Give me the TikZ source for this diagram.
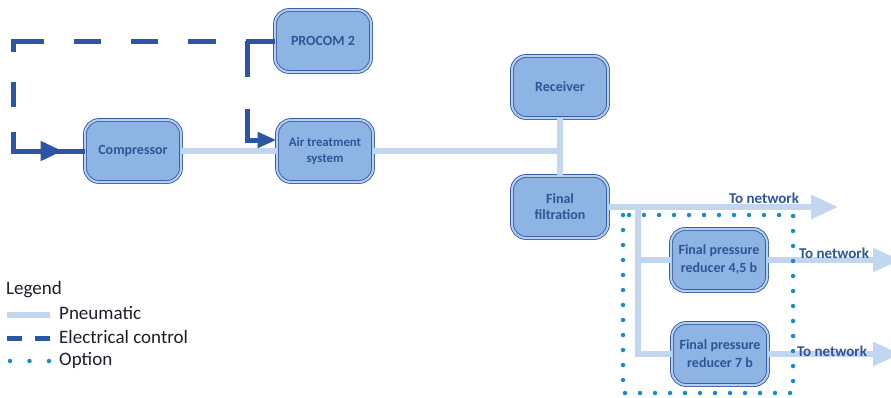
\documentclass[tikz,border=0pt]{standalone}
\usepackage{fontspec}
\setmainfont{Carlito}
\usetikzlibrary{arrows.meta,decorations.markings}
\definecolor{boxfill}{HTML}{8DB4E2}
\definecolor{boxlight}{HTML}{B4CFF0}
\definecolor{boxdraw}{HTML}{3A5EA6}
\definecolor{boxtext}{HTML}{2F5597}
\definecolor{pneucol}{HTML}{C3D6EF}
\definecolor{eleccol}{HTML}{2C56A3}
\definecolor{optcol}{HTML}{1B8BC5}
\definecolor{legcol}{HTML}{1E1E2A}
\begin{document}
\begin{tikzpicture}[x=1pt,y=-1pt,
  box/.style={rectangle, rounded corners=14pt, fill=boxfill, draw=boxdraw,
    double=boxlight, double distance=2pt, line width=0.9pt,
    minimum width=96pt, minimum height=62pt, align=center,
    font=\bfseries\fontsize{14}{16}\selectfont, text=boxtext, inner sep=2pt},
  airtxt/.style={font=\bfseries\fontsize{12.8}{15.5}\selectfont},
  redtxt/.style={font=\bfseries\fontsize{14}{18}\selectfont},
  pneuline/.style={draw=pneucol, line width=5.5pt},
  elecline/.style={draw=eleccol, line width=5pt},
  optline/.style={draw=optcol, line width=4.5pt, line cap=round, dash pattern=on 0pt off 15pt},
  pneuarrow/.style={-{Triangle[length=27pt,width=23pt]}},
  netlbl/.style={font=\bfseries\fontsize{15}{17}\selectfont, text=boxtext, inner sep=0pt},
  legtxt/.style={font=\fontsize{19}{21}\selectfont, text=legcol, anchor=west, inner sep=0pt}
]
\useasboundingbox (0,0) rectangle (891,397);

% nodes
\node[box] (procom) at (323,41) {PROCOM 2};
\node[box] (comp) at (133,151) {Compressor};
\node[box, airtxt] (air) at (325,151) {Air treatment\\system};
\node[box] (recv) at (560,87) {Receiver};
\node[box] (filt) at (560,207) {Final\\filtration};
\node[box, redtxt] (red45) at (719,260) {Final pressure\\reducer 4,5 b};
\node[box, redtxt] (red7) at (720,354) {Final pressure\\reducer 7 b};

% pneumatic
\coordinate (tee) at (560,151);
\coordinate (split) at (638,207);
\coordinate (net1) at (838,207);
\coordinate (net2) at (900,260);
\coordinate (net3) at (900,354);
\draw[pneuline] (comp.east) -- (air.west);
\draw[pneuline] (air.east) -- (tee);
\draw[pneuline] (recv.south) -- (filt.north);
\draw[pneuline, pneuarrow] (filt.east) -- (net1);
\draw[pneuline] (split) |- (red7.west);
\draw[pneuline] (split |- red45.west) -- (red45.west);
\draw[pneuline, pneuarrow] (red45.east) -- (net2);
\draw[pneuline, pneuarrow] (red7.east) -- (net3);

\node[netlbl] (tn1) at (764,198) {To network};
\node[netlbl] (tn2) at (834,253) {To network};
\node[netlbl] (tn3) at (832,351) {To network};

% option frame
\draw[optline] (623,215) rectangle (793,393);

% electrical control
\coordinate (ec1) at (13,41);
\coordinate (ec2) at (13,151);
\draw[elecline, dash pattern=on 29pt off 30pt on 28pt off 30pt on 27pt off 30pt on 27pt off 30pt on 42pt off 30pt on 25pt off 25pt on 200pt,
  postaction={decorate},
  decoration={markings, mark=at position -22pt with {\arrow{Triangle[length=22pt,width=19pt]}}}]
  (procom.west) -- (ec1) -- (ec2) -- (comp.west);
\coordinate (eb1) at (247,41);
\coordinate (eb2) at (247,140);
\draw[elecline, dash pattern=on 36pt off 32pt on 200pt, -{Triangle[length=19pt,width=15pt]}]
  (eb1) -- (eb2) -- (air.west |- eb2);

% legend
\node[legtxt] (leg) at (6,290) {Legend};
\node[legtxt] (legp) at (59,313) {Pneumatic};
\node[legtxt] (lege) at (59,337) {Electrical control};
\node[legtxt] (lego) at (59,360) {Option};
\coordinate (lp1) at (7,315);
\coordinate (lp2) at (50,315);
\coordinate (le1) at (7,338);
\coordinate (le2) at (50,338);
\coordinate (lo1) at (10,361);
\coordinate (lo2) at (50,361);
\draw[pneuline] (lp1) -- (lp2);
\draw[elecline, dash pattern=on 15pt off 13pt] (le1) -- (le2);
\draw[optline, dash pattern=on 0pt off 19.5pt] (lo1) -- (lo2);
\end{tikzpicture}
\end{document}
